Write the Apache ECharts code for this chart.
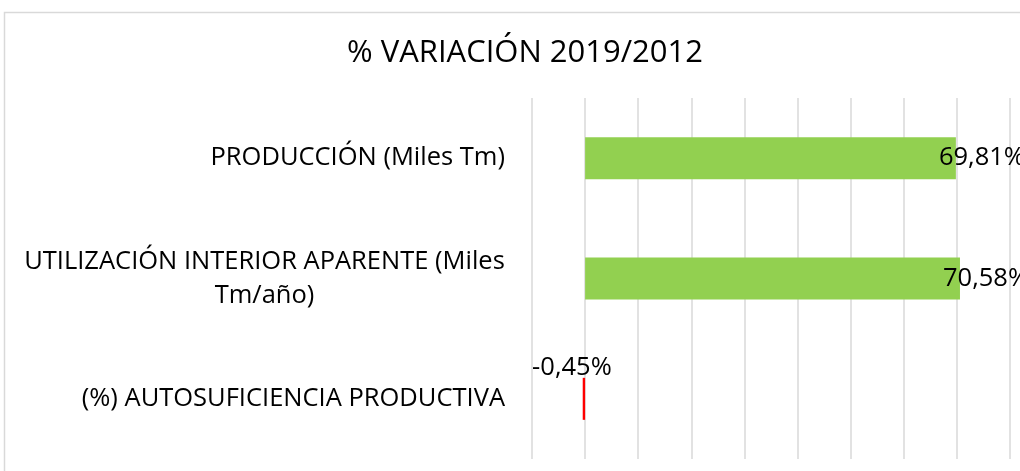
<!DOCTYPE html>
<html>
<head>
<meta charset="utf-8">
<style>
  html, body { margin: 0; padding: 0; background: #fff; }
  #chart { width: 1020px; height: 471px; }
</style>
<script src="https://cdn.jsdelivr.net/npm/echarts@6/dist/echarts.min.js"></script>
</head>
<body>
<div id="chart"></div>
<script>
// datos del gráfico
const categorias = [
  'PRODUCCIÓN (Miles Tm)',
  'UTILIZACIÓN INTERIOR APARENTE (Miles\nTm/año)',
  '(%) AUTOSUFICIENCIA PRODUCTIVA'
];
const variacion = [69.81, 70.58, -0.45];
const colores = ['#92d050', '#92d050', '#ff0000'];

const FONT = '"Open Sans", sans-serif';
const LABEL_SIZE = 25.5;

// ancho de la línea más larga, para centrar las etiquetas de dos líneas
const ctx = document.createElement('canvas').getContext('2d');
ctx.font = LABEL_SIZE + 'px ' + FONT;
const anchoLinea = (s) => Math.ceil(ctx.measureText(s).width);

const fmt = (v) => v.toFixed(2).replace('.', ',') + '%';

const chart = echarts.init(document.getElementById('chart'));

chart.setOption({
  animation: false,
  backgroundColor: '#fff',
  title: {
    text: '% VARIACIÓN 2019/2012',
    left: 342,
    top: 33,
    textStyle: { fontFamily: FONT, fontSize: 31, fontWeight: 'normal', color: '#000' }
  },
  graphic: [{
    type: 'rect',
    shape: { x: 4.5, y: 12.5, width: 1100, height: 600 },
    style: { fill: 'none', stroke: '#d9d9d9', lineWidth: 1.5 },
    silent: true
  }],
  grid: { left: 532, right: 10, top: 98, bottom: 12 },
  xAxis: {
    type: 'value',
    min: -10,
    max: 80,
    interval: 10,
    axisLabel: { show: false },
    axisLine: { show: false },
    axisTick: { show: false },
    splitLine: { lineStyle: { color: '#d9d9d9', width: 1.5 } }
  },
  yAxis: {
    type: 'category',
    inverse: true,
    data: categorias,
    axisLine: { show: false, onZero: false },
    axisTick: { show: false },
    axisLabel: {
      margin: 27,
      fontFamily: FONT,
      fontSize: LABEL_SIZE,
      color: '#000',
      lineHeight: 34,
      formatter: (val) => {
        const lineas = val.split('\n');
        if (lineas.length === 1) return val;
        return lineas.map((l) => '{c|' + l + '}').join('\n');
      },
      rich: {
        c: {
          fontFamily: FONT,
          fontSize: LABEL_SIZE,
          color: '#000',
          lineHeight: 34,
          align: 'center',
          width: anchoLinea('UTILIZACIÓN INTERIOR APARENTE (Miles')
        }
      }
    }
  },
  series: [{
    type: 'bar',
    barWidth: 42,
    data: variacion.map((v, i) => {
      const item = { value: v, itemStyle: { color: colores[i] } };
      if (v < 0) {
        item.label = { position: 'top', distance: 0, offset: [-12, 3] };
      }
      return item;
    }),
    label: {
      show: true,
      position: 'right',
      distance: 5,
      offset: [-22, 0],
      fontFamily: FONT,
      fontSize: LABEL_SIZE,
      color: '#000',
      formatter: (p) => fmt(p.value)
    }
  }]
});
</script>
</body>
</html>
